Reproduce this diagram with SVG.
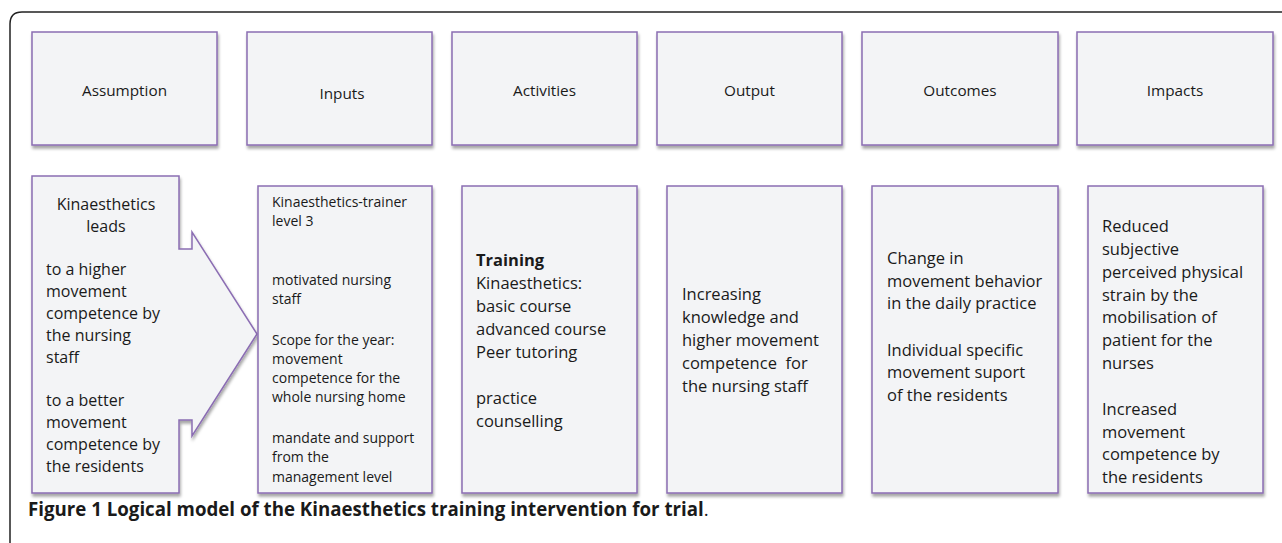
<svg xmlns="http://www.w3.org/2000/svg" width="1282" height="543" viewBox="0 0 1282 543">
<defs>
<filter id="sh" x="-10%" y="-10%" width="120%" height="120%">
<feDropShadow dx="1" dy="3" stdDeviation="1.5" flood-color="#000" flood-opacity="0.35"/>
</filter>
</defs>
<style>
.box{fill:#f3f4f6;stroke:#8b6db3;stroke-width:1.5;filter:url(#sh)}
.t{font-family:"Open Sans","Liberation Sans",sans-serif;fill:#1a1a1a}
.h{font-size:15.3px;text-anchor:middle}
.b{font-size:16.5px}
.a{font-size:16px}
.i{font-size:14px}
.cap{font-family:"Open Sans","Liberation Sans",sans-serif;font-size:18.7px;fill:#1a1a1a}
</style>
<rect width="1282" height="543" fill="#fff"/>
<path d="M10,543 V24 Q10,12 22,12 H1282" fill="none" stroke="#222" stroke-width="1.5"/>
<g id="head-assumption"><rect class="box" x="32" y="32" width="185" height="113"/><text class="t h" x="124.5" y="96">Assumption</text></g>
<g id="head-inputs"><rect class="box" x="247" y="32" width="185" height="113"/><text class="t h" x="342" y="99">Inputs</text></g>
<g id="head-activities"><rect class="box" x="452" y="32" width="185" height="113"/><text class="t h" x="544.5" y="96">Activities</text></g>
<g id="head-output"><rect class="box" x="657" y="32" width="185" height="113"/><text class="t h" x="749.5" y="96">Output</text></g>
<g id="head-outcomes"><rect class="box" x="862" y="32" width="196" height="113"/><text class="t h" x="960" y="96">Outcomes</text></g>
<g id="head-impacts"><rect class="box" x="1077" y="32" width="196" height="113"/><text class="t h" x="1175" y="96">Impacts</text></g>
<g id="assumption">
<path class="box" d="M32,176 H179 V249 H192 V232 L257,334 L192,436 V420 H179 V493 H32 Z"/>
<text class="t a" text-anchor="middle"><tspan x="106" y="210">Kinaesthetics</tspan><tspan x="106" y="232">leads</tspan></text>
<text class="t a"><tspan x="46" y="275">to a higher</tspan><tspan x="46" y="297">movement</tspan><tspan x="46" y="319">competence by</tspan><tspan x="46" y="341">the nursing</tspan><tspan x="46" y="363">staff</tspan><tspan x="46" y="406">to a better</tspan><tspan x="46" y="428">movement</tspan><tspan x="46" y="450">competence by</tspan><tspan x="46" y="472">the residents</tspan></text>
</g>
<g id="inputs">
<rect class="box" x="258" y="186" width="174" height="307"/>
<text class="t i"><tspan x="272" y="207">Kinaesthetics-trainer</tspan><tspan x="272" y="226">level 3</tspan><tspan x="272" y="285">motivated nursing</tspan><tspan x="272" y="304">staff</tspan><tspan x="272" y="345">Scope for the year:</tspan><tspan x="272" y="364">movement</tspan><tspan x="272" y="383">competence for the</tspan><tspan x="272" y="402">whole nursing home</tspan><tspan x="272" y="443">mandate and support</tspan><tspan x="272" y="462">from the</tspan><tspan x="272" y="482">management level</tspan></text>
</g>
<g id="activities">
<rect class="box" x="462" y="186" width="175" height="307"/>
<text class="t b"><tspan x="476" y="266" font-weight="bold">Training</tspan><tspan x="476" y="289">Kinaesthetics:</tspan><tspan x="476" y="312">basic course</tspan><tspan x="476" y="335">advanced course</tspan><tspan x="476" y="358">Peer tutoring</tspan><tspan x="476" y="404">practice</tspan><tspan x="476" y="427">counselling</tspan></text>
</g>
<g id="output">
<rect class="box" x="667" y="186" width="175" height="307"/>
<text class="t b"><tspan x="682" y="300">Increasing</tspan><tspan x="682" y="323">knowledge and</tspan><tspan x="682" y="346">higher movement</tspan><tspan x="682" y="369" xml:space="preserve">competence  for</tspan><tspan x="682" y="392">the nursing staff</tspan></text>
</g>
<g id="outcomes">
<rect class="box" x="872" y="186" width="186" height="307"/>
<text class="t b"><tspan x="887" y="264">Change in</tspan><tspan x="887" y="287">movement behavior</tspan><tspan x="887" y="309">in the daily practice</tspan><tspan x="887" y="356">Individual specific</tspan><tspan x="887" y="378">movement suport</tspan><tspan x="887" y="401">of the residents</tspan></text>
</g>
<g id="impacts">
<rect class="box" x="1088" y="186" width="175" height="307"/>
<text class="t b"><tspan x="1102" y="232">Reduced</tspan><tspan x="1102" y="255">subjective</tspan><tspan x="1102" y="278">perceived physical</tspan><tspan x="1102" y="301">strain by the</tspan><tspan x="1102" y="323">mobilisation of</tspan><tspan x="1102" y="346">patient for the</tspan><tspan x="1102" y="369">nurses</tspan><tspan x="1102" y="415">Increased</tspan><tspan x="1102" y="438">movement</tspan><tspan x="1102" y="460">competence by</tspan><tspan x="1102" y="483">the residents</tspan></text>
</g>
<g id="connectors"></g>
<text class="cap" x="28" y="516"><tspan font-weight="bold">Figure 1 Logical model of the Kinaesthetics training intervention for trial</tspan><tspan>.</tspan></text>
</svg>
